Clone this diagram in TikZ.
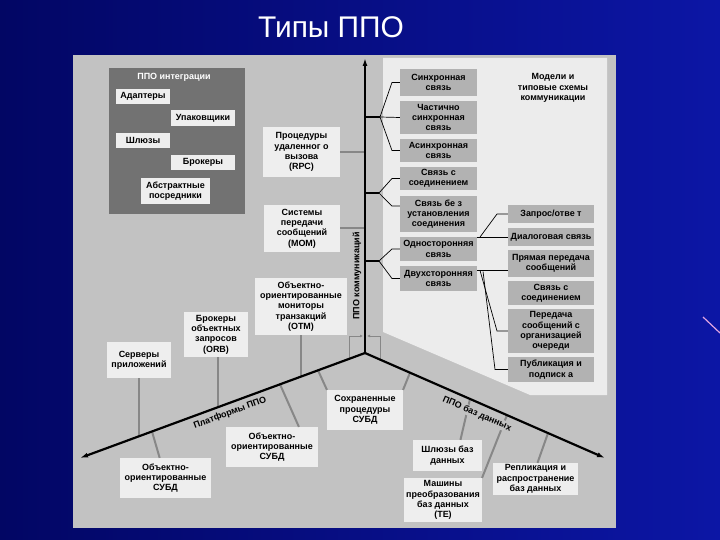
\documentclass[tikz,border=0pt]{standalone}
\usepackage{fontspec}
\setmainfont{Liberation Sans}
\usetikzlibrary{arrows.meta}
\definecolor{bgdark}{RGB}{2,6,100}
\definecolor{bglight}{RGB}{12,22,165}
\definecolor{panelgrey}{RGB}{194,194,194}
\definecolor{panelwhite}{RGB}{236,236,236}
\definecolor{intgrey}{RGB}{114,114,114}
\definecolor{boxwhite}{RGB}{238,238,238}
\definecolor{boxgrey}{RGB}{178,178,178}
\definecolor{linkgrey}{RGB}{135,135,135}
\definecolor{strayline}{RGB}{225,165,225}
\newcommand{\ppobox}[4][]{\node[lbox,#1] at (#2) (#3) {#4}}

\begin{document}
\begin{tikzpicture}[x=1bp,y=-1bp,
	every node/.style={font=\fontsize{9}{10.3}\selectfont\bfseries},
	lbox/.style={fill=boxwhite,align=center,inner sep=1pt},
	gbox/.style={fill=boxgrey},
	link/.style={draw=linkgrey,line width=2bp},
	axisline/.style={draw=black,line width=2.2bp},
	brace/.style={draw=black,line width=0.7bp},
	axislabel/.style={font=\fontsize{9}{10}\selectfont\bfseries,inner sep=1pt}]
	\useasboundingbox (0,0) rectangle (720,540);
	\shade[left color=bgdark,right color=bglight] (0,0) rectangle (720,540);
	\draw[strayline,line width=1.2bp] (703,317) -- (720,333);
	\node[font=\fontsize{30}{34}\selectfont,text=white] (title) at (331,27) {Типы ППО};
	
	\fill[panelgrey] (73,55) rectangle (616,528);
	\fill[panelwhite] (383,58) -- (607,58) -- (607,395) -- (530,395) -- (383,332) -- cycle;
	
	\node[fill=intgrey,minimum width=136,minimum height=146,inner sep=0pt] (integ) at (177,141) {};
	\node[text=white,font=\fontsize{9}{10}\selectfont\bfseries] (integt) at (174,77) {ППО интеграции};
	\ppobox[minimum width=54,minimum height=15]{143,96.5}{adapt}{Адаптеры};
	\ppobox[minimum width=64,minimum height=16]{203,118}{pack}{Упаковщики};
	\ppobox[minimum width=54,minimum height=15]{143,140.5}{gate}{Шлюзы};
	\ppobox[minimum width=64,minimum height=15]{203,162.5}{brok}{Брокеры};
	\ppobox[minimum width=69,minimum height=26]{175.5,191}{abstr}{Абстрактные\\посредники};
	
	\ppobox[minimum width=77,minimum height=50]{301.5,152}{rpc}{Процедуры\\удаленног о\\вызова\\(RPC)};
	\ppobox[minimum width=76,minimum height=47]{302,228.5}{mom}{Системы\\передачи\\сообщений\\(MOM)};
	\ppobox[minimum width=92,minimum height=57]{301,306.5}{otm}{Объектно-\\ориентированные\\мониторы\\транзакций\\(OTM)};
	\ppobox[minimum width=64,minimum height=45]{216,334.5}{orb}{Брокеры\\объектных\\запросов\\(ORB)};
	\ppobox[minimum width=64,minimum height=36]{139,360}{apps}{Серверы\\приложений};
	\ppobox[minimum width=91,minimum height=40]{165.5,478}{oodb1}{Объектно-\\ориентированные\\СУБД};
	\ppobox[minimum width=92,minimum height=40]{272,447}{oodb2}{Объектно-\\ориентированные\\СУБД};
	\ppobox[minimum width=76,minimum height=40]{365,410}{stored}{Сохраненные\\процедуры\\СУБД};
	\ppobox[minimum width=69,minimum height=31]{447.5,455.5}{dbgw}{Шлюзы баз\\данных};
	\ppobox[minimum width=78,minimum height=44]{443,500}{te}{Машины\\преобразования\\баз данных\\(TE)};
	\ppobox[minimum width=85,minimum height=32]{535.5,479}{repl}{Репликация и\\распространение\\баз данных};
	
	\ppobox[gbox,minimum width=77,minimum height=27]{438.5,82.5}{sync}{Синхронная\\связь};
	\ppobox[gbox,minimum width=77,minimum height=33]{438.5,117.5}{psync}{Частично\\синхронная\\связь};
	\ppobox[gbox,minimum width=77,minimum height=23]{438.5,150.5}{async}{Асинхронная\\связь};
	\ppobox[gbox,minimum width=77,minimum height=23]{438.5,178.5}{conn}{Связь с\\соединением};
	\ppobox[gbox,minimum width=77,minimum height=36]{438.5,214}{noconn}{Связь бе з\\установления\\соединения};
	\ppobox[gbox,minimum width=77,minimum height=24]{438.5,249}{oneway}{Односторонняя\\связь};
	\ppobox[gbox,minimum width=77,minimum height=25]{438.5,278.5}{twoway}{Двухсторонняя\\связь};
	
	\ppobox[gbox,minimum width=86,minimum height=18]{551,214}{reqrep}{Запрос/отве т};
	\ppobox[gbox,minimum width=86,minimum height=18]{551,237}{dialog}{Диалоговая связь};
	\ppobox[gbox,minimum width=86,minimum height=27]{551,263.5}{direct}{Прямая передача\\сообщений};
	\ppobox[gbox,minimum width=86,minimum height=24]{551,293}{conn2}{Связь с\\соединением};
	\ppobox[gbox,minimum width=86,minimum height=44]{551,331}{queue}{Передача\\сообщений с\\организацией\\очереди};
	\ppobox[gbox,minimum width=86,minimum height=25]{551,369.5}{pubsub}{Публикация и\\подписк а};
	\node[align=center] (models) at (553,88) {Модели и\\типовые схемы\\коммуникации};
	
	\coordinate (jn) at (365,353);
	\coordinate (top) at (365,58);
	\coordinate (lt) at (80,458);
	\coordinate (rt) at (605,458);
	\coordinate (a_otm) at (301,376.6);
	\coordinate (a_orb) at (218,407.2);
	\coordinate (a_apps) at (139,436.3);
	\coordinate (a_db1) at (152,431.5);
	\coordinate (a_db2) at (280,384.3);
	\coordinate (a_st1) at (318,370.3);
	\coordinate (a_st2) at (410,372.7);
	\coordinate (a_gw) at (470,398.9);
	\coordinate (a_te) at (507,415.1);
	\coordinate (a_repl) at (548,433.1);
	\coordinate (b1) at (380,117);
	\coordinate (b2) at (379,193);
	\coordinate (b3) at (379,261);
	
	\draw[link] (rpc.east) -- (rpc.east -| jn);
	\draw[link] (mom.east) -- (mom.east -| jn);
	\draw[link] (otm.south) -- (a_otm);
	\draw[link] (a_orb |- orb.south) -- (a_orb);
	\draw[link] (apps.south) -- (a_apps);
	\draw[link] (a_db1) -- (oodb1);
	\draw[link] (a_db2) -- ([xshift=27]oodb2.north);
	\draw[link] (a_st1) -- (stored.north west);
	\draw[link] (a_st2) -- (stored.north east);
	\draw[link] (a_gw) -- ([xshift=13]dbgw.north);
	\draw[link] (a_te) -- (te.north east);
	\draw[link] (a_repl) -- ([xshift=2]repl.north);
	
	\draw[linkgrey,line width=0.8bp,-{Latex[length=3bp,width=3bp]}] (349,358) -- (349,336) -- (363,336);
	\draw[linkgrey,line width=0.8bp,-{Latex[length=3bp,width=3bp]}] (380,360) -- (380,336) -- (367,336);
	
	\draw[axisline,-{Latex[length=8bp,width=5bp]}] (jn) -- (top);
	\draw[axisline,-{Latex[length=8bp,width=5bp]}] (jn) -- (lt);
	\draw[axisline,-{Latex[length=8bp,width=5bp]}] (jn) -- (rt);
	\draw[axisline] (b1 -| jn) -- (b1);
	\draw[axisline] (b2 -| jn) -- (b2);
	\draw[axisline] (b3 -| jn) -- (b3);
	
	\draw[brace] (b1) -- ([xshift=-8]sync.west) -- (sync.west);
	\draw[brace] (b1) -- (psync.west);
	\draw[brace] (b1) -- ([xshift=-8]async.west) -- (async.west);
	\draw[brace] (b2) -- ([xshift=-8]conn.west) -- (conn.west);
	\draw[brace] (b2) -- ([xshift=-8,yshift=8]noconn.west) -- ([yshift=8]noconn.west);
	\draw[brace] (b3) -- ([xshift=-8]oneway.west) -- (oneway.west);
	\draw[brace] (b3) -- ([xshift=-8]twoway.west) -- (twoway.west);
	
	\draw[brace] (oneway.east |- dialog.west) -- (dialog.west);
	\draw[brace] ([xshift=3]oneway.east |- dialog.west) -- ([xshift=-11]reqrep.west) -- (reqrep.west);
	\draw[brace] ([yshift=8]twoway.east) -- ([yshift=-7]direct.west);
	\draw[brace] ([xshift=3,yshift=8]twoway.east) -- ([xshift=-11]queue.west) -- (queue.west);
	\draw[brace] ([xshift=6,yshift=7]twoway.east) -- ([xshift=-13]pubsub.west) -- (pubsub.west);
	
	\node[axislabel,rotate=90] (commlabel) at (357,276) {ППО коммуникаций};
	\node[axislabel,fill=panelgrey,rotate=20.2] (platlabel) at (230,413) {Платформы ППО};
	\node[axislabel,fill=panelgrey,rotate=-23.6] (dblabel) at (477,414) {ППО баз данных};
\end{tikzpicture}
\end{document}
